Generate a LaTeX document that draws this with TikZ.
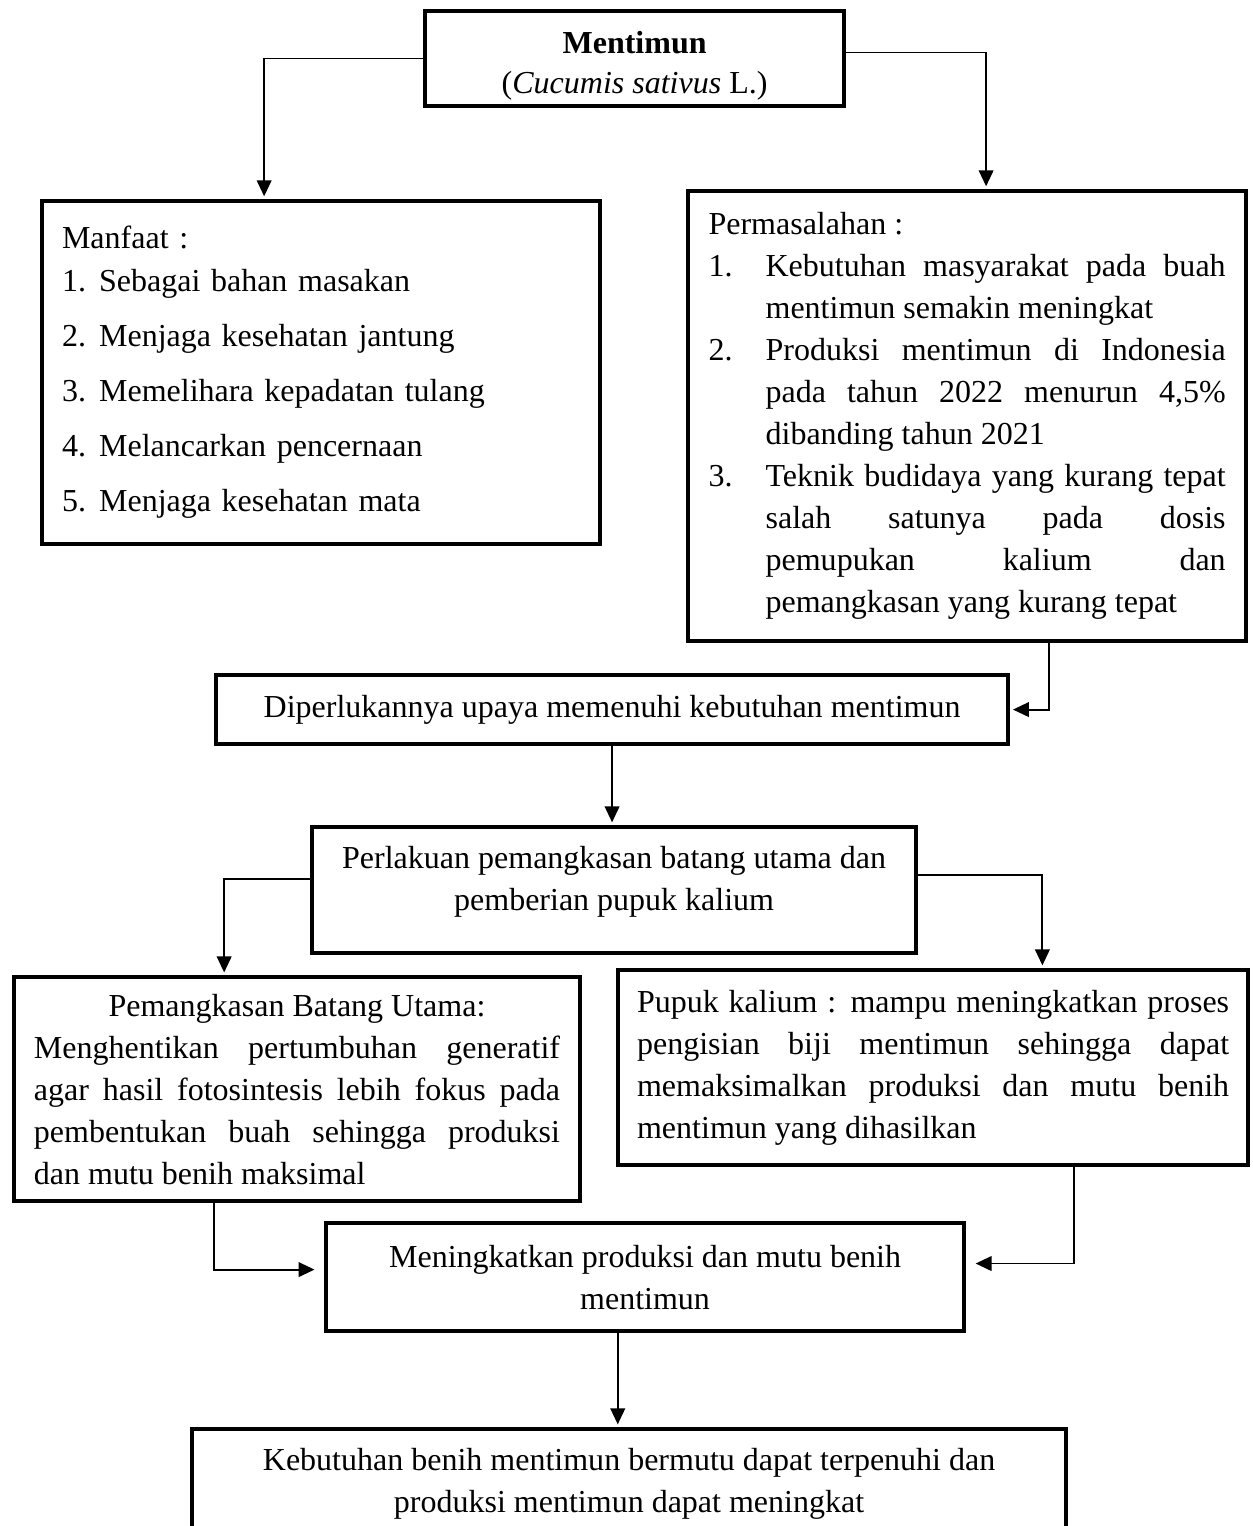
\documentclass[tikz,border=0pt]{standalone}
\usepackage{fontspec}
\setmainfont{Liberation Serif}
\usepackage{tikz}
\usetikzlibrary{arrows.meta}
\setlength{\parindent}{0pt}
\hbadness=10000

\begin{document}
\begin{tikzpicture}[
			block/.style={
				rectangle,
				draw=black,
				line width=1.6pt,
				inner sep=0pt,
				align=center,
				font=\fontsize{12pt}{15.75pt}\selectfont
			},
			arrow/.style={
				-{Triangle[length=6pt,width=5.5pt]},
				line width=0.7pt,
				draw=black,
				shorten >=1pt
			}
			]
			\useasboundingbox (0,0) rectangle (16.50,-20.11);
			
			% 上层
			\node[block, minimum width=5.52cm, minimum height=1.25cm] (mentimun) at (8.363,-0.771)
				{\rule{0pt}{13.5pt}\textbf{Mentimun}\\[-0.75pt](\textit{Cucumis sativus} L.)};
			\node[block, minimum width=7.35cm, minimum height=4.52cm, text width=194.25pt, align=left] (manfaat) at (4.231,-4.910)
				{Manfaat :\\[0.3pt]
				\makebox[13.9pt][l]{1.}Sebagai bahan masakan\\[4.9pt]
				\makebox[13.9pt][l]{2.}Menjaga kesehatan jantung\\[4.9pt]
				\makebox[13.9pt][l]{3.}Memelihara kepadatan tulang\\[4.9pt]
				\makebox[13.9pt][l]{4.}Melancarkan pencernaan\\[4.9pt]
				\makebox[13.9pt][l]{5.}Menjaga kesehatan mata};
			\node[block, minimum width=7.35cm, minimum height=5.93cm, text width=193.9pt, align=justify] (masalah) at (12.745,-5.483)
				{Permasalahan :\par
				\hangindent=21.4pt\hangafter=1\makebox[21.4pt][l]{1.}Kebutuhan masyarakat pada buah\linebreak mentimun semakin meningkat\par
				\hangindent=21.4pt\hangafter=1\makebox[21.4pt][l]{2.}Produksi mentimun di Indonesia\linebreak pada tahun 2022 menurun 4,5\%\linebreak dibanding tahun 2021\par
				\hangindent=21.4pt\hangafter=1\makebox[21.4pt][l]{3.}Teknik budidaya yang kurang tepat\linebreak salah satunya pada dosis\linebreak pemupukan kalium dan\linebreak pemangkasan yang kurang tepat\par};
			
			% 中层
			\node[block, minimum width=10.44cm, minimum height=0.91cm] (upaya) at (8.066,-9.351)
				{Diperlukannya upaya memenuhi kebutuhan mentimun};
			\node[block, minimum width=7.96cm, minimum height=1.66cm] (perlakuan) at (8.093,-11.730)
				{Perlakuan pemangkasan batang utama dan\\pemberian pupuk kalium\rule[-9pt]{0pt}{0pt}};
			\node[block, minimum width=7.46cm, minimum height=2.95cm, text width=197.25pt, align=justify] (pangkas) at (3.914,-14.353)
				{{\centering Pemangkasan Batang Utama:\par}
				Menghentikan pertumbuhan generatif\linebreak agar hasil fotosintesis lebih fokus pada\linebreak pembentukan buah sehingga produksi\linebreak dan mutu benih maksimal};
			\node[block, minimum width=8.30cm, minimum height=2.57cm, text width=222pt, align=justify] (kalium) at (12.297,-14.070)
				{Pupuk kalium : mampu meningkatkan proses\linebreak pengisian biji mentimun sehingga dapat\linebreak memaksimalkan produksi dan mutu benih\linebreak mentimun yang dihasilkan};
			
			% 下层
			\node[block, minimum width=8.41cm, minimum height=1.42cm] (hasil) at (8.501,-16.831)
				{Meningkatkan produksi dan mutu benih\\mentimun};
			\node[block, minimum width=11.52cm, minimum height=1.45cm] (akhir) at (8.290,-19.559)
				{Kebutuhan benih mentimun bermutu dapat terpenuhi dan\\produksi mentimun dapat meningkat};
			
			% 箭头
			\draw[arrow] (mentimun.west) -| ([xshift=-0.75cm]manfaat.north);
			\draw[arrow] ([yshift=0.08cm]mentimun.east) -| ([xshift=0.25cm]masalah.north);
			\draw[arrow] ([xshift=1.08cm]masalah.south) |- (upaya.east);
			\draw[arrow] (upaya.south) -- (upaya.south |- perlakuan.north);
			\draw[arrow] ([yshift=0.15cm]perlakuan.west) -| ([xshift=-0.96cm]pangkas.north);
			\draw[arrow] ([yshift=0.2cm]perlakuan.east) -| ([xshift=1.44cm]kalium.north);
			\draw[arrow, shorten >=3.5pt] ([xshift=-1.09cm]pangkas.south) |- ([yshift=0.1cm]hasil.west);
			\draw[arrow, shorten >=3.5pt] ([xshift=1.86cm]kalium.south) |- ([yshift=0.18cm]hasil.east);
			\draw[arrow] ([xshift=-0.36cm]hasil.south) -- ([xshift=-0.36cm]hasil.south |- akhir.north);
		\end{tikzpicture}
\end{document}
